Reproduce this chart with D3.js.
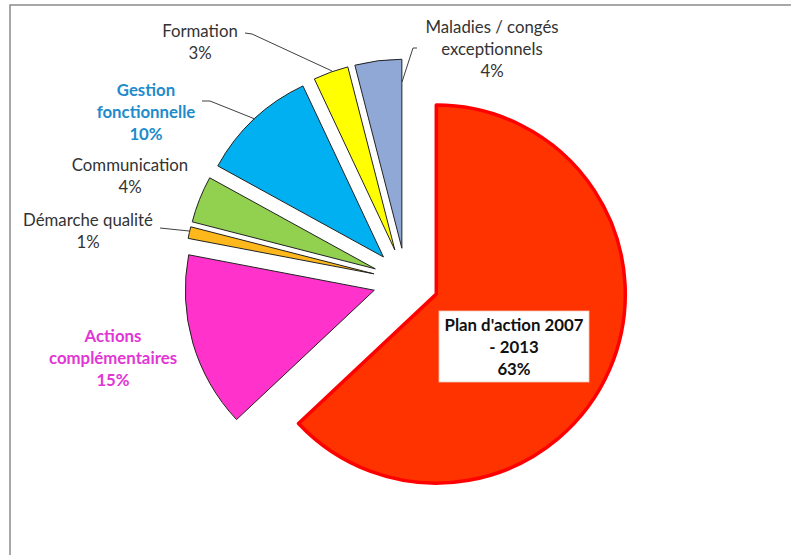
<!DOCTYPE html>
<html>
<head>
<meta charset="utf-8">
<script src="https://cdn.jsdelivr.net/npm/d3@7"></script>
<style>
  html, body { margin: 0; padding: 0; background: #fff; }
  svg { display: block; }
</style>
</head>
<body>
<svg id="chart" width="791" height="555"></svg>
<script>
// Budget breakdown by activity (percent)
const categories = [
  "Plan d'action 2007 - 2013",
  "Actions complémentaires",
  "Démarche qualité",
  "Communication",
  "Gestion fonctionnelle",
  "Formation",
  "Maladies / congés exceptionnels"
];
const values = [63, 15, 1, 4, 10, 3, 4];
const labelLines = [
  ["Plan d'action 2007", "- 2013"],
  ["Actions", "complémentaires"],
  ["Démarche qualité"],
  ["Communication"],
  ["Gestion", "fonctionnelle"],
  ["Formation"],
  ["Maladies / congés", "exceptionnels"]
];

const fills   = ["#FF3300", "#FF33CC", "#FFB81C", "#92D050", "#00B0F0", "#FFFF00", "#8FA8D6"];
const strokes = ["#FF0000", "#222", "#222", "#222", "#222", "#222", "#222"];
const strokeW = [3.5, 1, 1, 1, 1, 1, 1];
const textColors = ["#111", "#E236D4", "#333", "#333", "#1E8BCB", "#333", "#333"];
const textBold = [true, true, false, false, true, false, false];

const svg = d3.select("#chart");

// chart frame: top and left edges
svg.append("path")
  .attr("d", "M10,555 L10,5 L791,5")
  .attr("fill", "none")
  .attr("stroke", "#8a8a8a")
  .attr("stroke-width", 1.5);

const cx = 406, cy = 281, radius = 189, explode = 33;

const pie = d3.pie().sort(null).value(d => d)
  .startAngle(0).endAngle(2 * Math.PI);
const arcs = pie(values);
const arc = d3.arc().innerRadius(0).outerRadius(radius);

const g = svg.append("g").attr("transform", `translate(${cx},${cy})`);

function offset(d) {
  const a = (d.startAngle + d.endAngle) / 2;
  return [Math.sin(a) * explode, -Math.cos(a) * explode];
}

g.selectAll("path.slice")
  .data(arcs)
  .join("path")
  .attr("class", "slice")
  .attr("transform", d => { const o = offset(d); return `translate(${o[0]},${o[1]})`; })
  .attr("d", arc)
  .attr("fill", (d, i) => fills[i])
  .attr("stroke", (d, i) => strokes[i])
  .attr("stroke-width", (d, i) => strokeW[i])
  .attr("stroke-linejoin", "round");

// label anchor positions (page coordinates) and leader lines
const labelPos = [
  [514, 325], [113, 336], [88, 220], [130, 165], [146, 90], [200, 31], [492, 27]
];
const leaders = [
  null, null,
  [[160, 228], [189, 231]],
  null,
  [[202, 101], [210, 101], [255, 119]],
  [[245, 33], [252, 34], [332, 71]],
  [[417, 48], [413, 48], [402, 82]]
];

const line = d3.line();
svg.selectAll("path.leader")
  .data(leaders.filter(l => l))
  .join("path")
  .attr("class", "leader")
  .attr("d", line)
  .attr("fill", "none")
  .attr("stroke", "#404040")
  .attr("stroke-width", 1);

const lineH = 22;

// white box behind the main slice's label
svg.append("rect")
  .attr("x", 439).attr("y", 311)
  .attr("width", 150).attr("height", 71)
  .attr("fill", "#fff")
  .attr("stroke", "#f2c8b8")
  .attr("stroke-width", 0.8);

arcs.forEach((d, i) => {
  const [x, y] = labelPos[i];
  const lines = labelLines[i].concat([d3.format(".0f")(values[i]) + "%"]);
  const t = svg.append("text")
    .attr("x", x).attr("y", y)
    .attr("text-anchor", "middle")
    .attr("font-family", "Lato, 'Open Sans', sans-serif")
    .attr("font-size", 16.8)
    .attr("font-weight", textBold[i] ? "bold" : "normal")
    .attr("fill", textColors[i]);
  lines.forEach((s, k) => {
    t.append("tspan")
      .attr("x", x)
      .attr("y", y + k * lineH)
      .attr("dy", "0.35em")
      .text(s);
  });
});
</script>
</body>
</html>
